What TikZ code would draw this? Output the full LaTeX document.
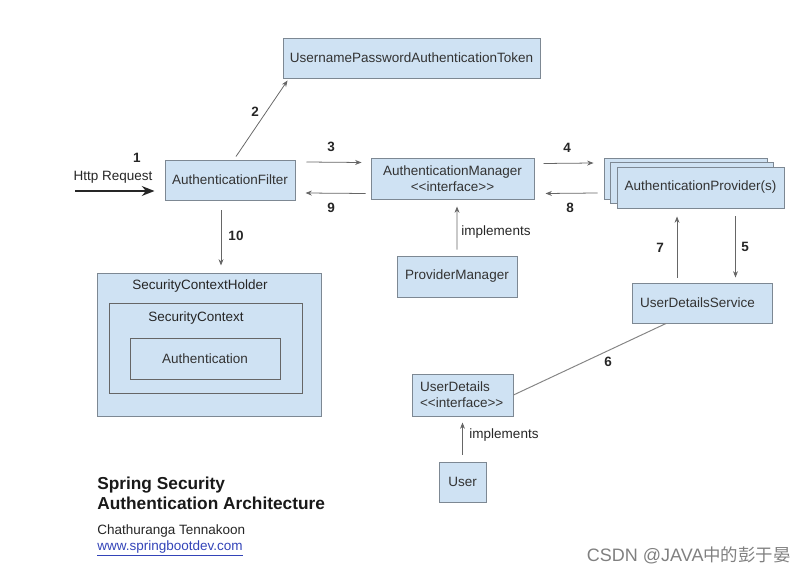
\documentclass[tikz,border=0pt]{standalone}
\usepackage{fontspec}
\setmainfont{Liberation Sans}[Ligatures=TeXOff]
\newfontfamily\cjk{Noto Sans CJK SC}
\usepackage{xcolor}
\usetikzlibrary{arrows.meta,calc,positioning}
\newlength\px \setlength\px{0.025cm}
\definecolor{fondo}{HTML}{CFE2F3}
\definecolor{borde}{HTML}{7D8893}
\definecolor{linea}{HTML}{666666}
\definecolor{enlace}{HTML}{3344B8}
\tikzset{
  caja/.style={rectangle,fill=fondo,draw=borde,line width=0.7pt,inner sep=0pt,text=black!80,font=\fontsize{9.6}{11.5}\selectfont},
  interior/.style={caja,draw=black!60},
  flecha/.style={-{Stealth[length=4.5pt,width=3.5pt]},draw=linea,line width=0.55pt},
  num/.style={text=black!85,font=\fontsize{9.6}{11.5}\selectfont\bfseries},
  etiq/.style={text=black!85,font=\fontsize{9.6}{11.5}\selectfont}
}

\begin{document}
\begin{tikzpicture}[x=0.025cm,y=-0.025cm]
\useasboundingbox (0,0) rectangle (806,576);
% cajas
\node[caja,minimum width=257\px,minimum height=40\px] (token) at (411.5,58) {UsernamePasswordAuthenticationToken};
\node[caja,minimum width=130\px,minimum height=40\px] (filtro) at (230,180) {AuthenticationFilter};
\node[caja,minimum width=163\px,minimum height=41\px,align=center] (gestor) at (452.5,178.5) {AuthenticationManager\\ <<interface>>};
\node[caja,minimum width=163\px,minimum height=41\px] (prov3) at (685.5,178.5) {};
\node[caja,minimum width=163\px,minimum height=41\px] (prov2) at (691.5,182.5) {};
\node[caja,minimum width=167\px,minimum height=41\px] (prov) at (700.5,187.5) {AuthenticationProvider(s)};
\node[caja,minimum width=120\px,minimum height=41\px] (pm) at (457,276.5) {ProviderManager};
\node[caja,minimum width=140\px,minimum height=40\px,text width=124\px,align=left] (uds) at (702,303) {UserDetailsService};
\node[caja,minimum width=101\px,minimum height=42\px,text width=85\px,align=left] (ud) at (462.5,395) {UserDetails\\<<interface>>};
\node[caja,minimum width=47\px,minimum height=40\px] (user) at (462.5,482) {User};
% contexto de seguridad
\node[caja,minimum width=224\px,minimum height=143\px] (holder) at (209,344.5) {};
\node[etiq] (holderlbl) at ($(holder.north)+(-9,14)$) {SecurityContextHolder};
\node[interior,minimum width=193\px,minimum height=90\px] (ctx) at (205.5,348) {};
\node[etiq] (ctxlbl) at ($(ctx.north)+(-9.5,16)$) {SecurityContext};
\node[interior,minimum width=150\px,minimum height=41\px] (auth) at (205,358.5) {Authentication};
% peticion
\coordinate (http) at (75,191);
\draw[-{Stealth[length=9pt,width=7pt]},line width=1.5pt,black!85] (http) -- ($(filtro.west)+(-10,11)$);
\node[etiq] (httplbl) at (113,177.5) {Http Request};
\node[num] (n1) at (137,157.5) {1};
% flujo
\draw[flecha] ($(filtro.north)+(6,-3)$) -- ($(token.south west)+(5,2)$);
\node[num] (n2) at (255,112) {2};
\draw[flecha] ($(filtro.east)+(11,-18)$) -- ($(gestor.west)+(-9,-16)$);
\node[num] (n3) at (331,147) {3};
\draw[flecha] ($(gestor.west)+(-5,15)$) -- ($(filtro.east)+(10,13)$);
\node[num] (n9) at (331,208) {9};
\draw[flecha] ($(gestor.east)+(9,-15)$) -- ($(prov3.west)+(-10,-15.5)$);
\node[num] (n4) at (567,148) {4};
\draw[flecha] ($(prov3.west)+(-6,14.5)$) -- ($(gestor.east)+(11,15)$);
\node[num] (n8) at (570,208) {8};
\draw[flecha] ($(filtro.south)+(-9,10)$) -- ($(holder.north)+(12,-7)$);
\node[num] (n10) at (236,236) {10};
\draw[flecha] ($(pm.north)+(0,-6)$) -- ($(gestor.south)+(4.5,7)$);
\node[etiq] (impl1) at (496,232) {implements};
\draw[flecha] ($(uds.north)+(-25,-5)$) -- ($(prov.south)+(-23.5,8)$);
\node[num] (n7) at (660,248) {7};
\draw[flecha] ($(prov.south)+(35,8)$) -- ($(uds.north)+(33.5,-5)$);
\node[num] (n5) at (745,247) {5};
\draw[draw=linea!80,line width=0.7pt] ($(uds.south)+(-36,0)$) -- (ud.east);
\node[num] (n6) at (608,362) {6};
\draw[flecha] ($(user.north)+(0,-7)$) -- ($(ud.south)+(0,6)$);
\node[etiq] (impl2) at (504,435) {implements};
% titulo
\node[anchor=west,inner xsep=0pt,align=left,text=black!90,font=\fontsize{12.3}{14.3}\selectfont\bfseries] (titulo) at (97,493) {Spring Security\\Authentication Architecture};
\node[etiq,anchor=west,inner xsep=0pt] (autor) at (97,531) {Chathuranga Tennakoon};
\node[etiq,anchor=west,inner xsep=0pt,text=enlace] (web) at (97,548) {\underline{www.springbootdev.com}};
\node[anchor=east,inner xsep=0pt,text=black!50,font=\fontsize{12.8}{14}\selectfont] (marca) at (791,555) {CSDN @JAVA{\cjk\fontsize{12.4}{14}\selectfont 中的彭于晏}};
\end{tikzpicture}
\end{document}
